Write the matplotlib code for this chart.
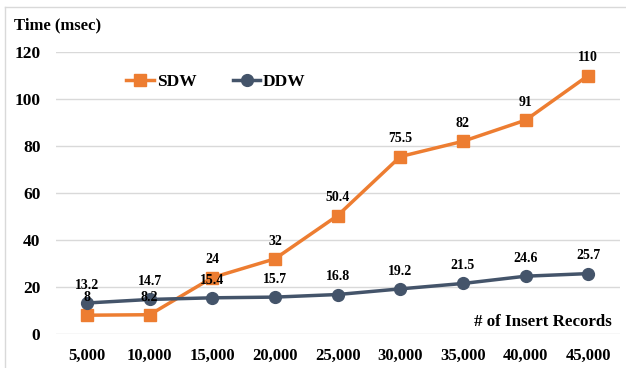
import matplotlib.pyplot as plt
from matplotlib.lines import Line2D

records = ["5,000", "10,000", "15,000", "20,000", "25,000",
           "30,000", "35,000", "40,000", "45,000"]
sdw = [8, 8.2, 24, 32, 50.4, 75.5, 82, 91, 110]
ddw = [13.2, 14.7, 15.4, 15.7, 16.8, 19.2, 21.5, 24.6, 25.7]
y_ticks = [0, 20, 40, 60, 80, 100, 120]

plt.rcParams["font.family"] = ["Liberation Serif", "DejaVu Serif"]
plt.rcParams["font.weight"] = "bold"

orange = "#ED7D31"
slate = "#44546A"

fig = plt.figure(figsize=(6.26, 3.68), dpi=100)
ax = fig.add_axes([55.7 / 626, 1 - 334 / 368, (619.6 - 55.7) / 626, (334 - 52) / 368])

x = list(range(len(records)))
ax.plot(x, sdw, color=orange, lw=2.5, marker="s", ms=9, label="SDW", zorder=3)
ax.plot(x, ddw, color=slate, lw=2.5, marker="o", ms=8.5, label="DDW", zorder=4)

for xi, v in zip(x, sdw):
    ax.annotate(f"{v:g}", (xi, v), xytext=(0, 8), textcoords="offset points",
                ha="center", va="bottom", fontsize=10, fontweight="bold", zorder=5)
for xi, v in zip(x, ddw):
    ax.annotate(f"{v:g}", (xi, v), xytext=(0, 8), textcoords="offset points",
                ha="center", va="bottom", fontsize=10, fontweight="bold", zorder=5)

ax.set_xlim(-0.5, len(records) - 0.5)
ax.set_ylim(0, 120)
ax.set_xticks(x)
ax.set_xticklabels(records, fontsize=12, fontweight="bold")
ax.set_yticks(y_ticks)
ax.set_yticklabels([str(t) for t in y_ticks], fontsize=12.5, fontweight="bold")
ax.tick_params(length=0)
ax.tick_params(axis="x", pad=10)
ax.tick_params(axis="y", pad=11)
ax.grid(axis="y", color="#D9D9D9", lw=1)
ax.set_axisbelow(True)
for s in ax.spines.values():
    s.set_visible(False)
for ln in ax.lines:
    ln.set_clip_on(False)

ax.legend(loc="center left", bbox_to_anchor=(0.125, 0.893), ncol=2, frameon=False,
          prop={"size": 12.5, "weight": "bold"}, handlelength=1.6,
          handletextpad=0.15, columnspacing=2.1, borderaxespad=0, borderpad=0)

fig.text(14 / 626, 1 - 25 / 368, "Time (msec)", fontsize=12, fontweight="bold",
         ha="left", va="center")
fig.text(612 / 626, 1 - 322 / 368, "# of Insert Records", fontsize=12.2,
         fontweight="bold", ha="right", va="center")

# light chart frame on the left and top edges
fig.add_artist(Line2D([5 / 626, 5 / 626], [0, 1 - 7 / 368], transform=fig.transFigure,
                      color="#D9D9D9", lw=1))
fig.add_artist(Line2D([5 / 626, 1], [1 - 7 / 368, 1 - 7 / 368], transform=fig.transFigure,
                      color="#D9D9D9", lw=1))

fig.savefig("out.png", dpi=100)
